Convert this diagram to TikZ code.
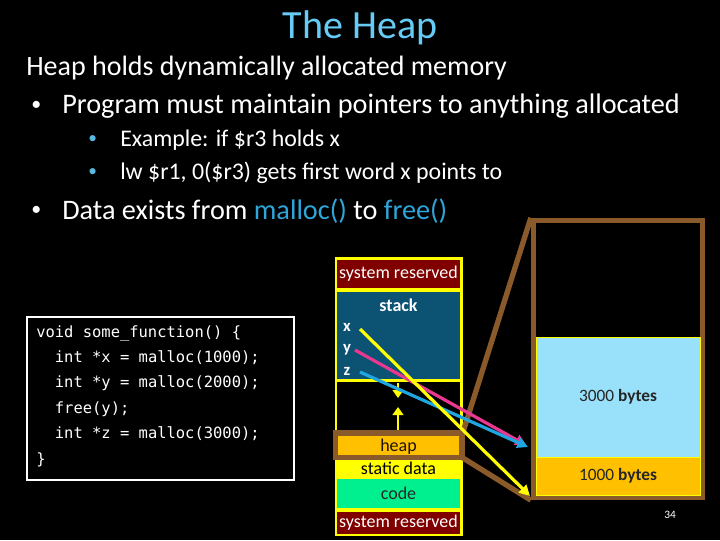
\documentclass[tikz,border=0pt]{standalone}
\usepackage{fontspec}
\setmainfont{Carlito}
\newfontfamily\codefont{DejaVu Sans Mono}
\usetikzlibrary{arrows.meta,fit}
\definecolor{titleblue}{HTML}{66CCF5}
\definecolor{fnblue}{HTML}{2FA6DA}
\definecolor{subbul}{HTML}{5BB8E0}
\definecolor{sysred}{HTML}{800000}
\definecolor{stackblue}{HTML}{0B5273}
\definecolor{heaporange}{HTML}{FFC000}
\definecolor{framebrown}{HTML}{8B5A2B}
\definecolor{codegreen}{HTML}{00F090}
\definecolor{lightblue}{HTML}{99E0FA}
\definecolor{ptrpink}{HTML}{E8388F}
\definecolor{ptrblue}{HTML}{1FA5E0}
\definecolor{ptryellow}{HTML}{FFFF00}
\newcommand{\fsz}[1]{\fontsize{#1}{1.2\dimexpr#1pt\relax}\selectfont}
\begin{document}
\begin{tikzpicture}[x=0.75pt,y=-0.75pt,
  txt/.style={inner sep=0pt, text=white, anchor=west},
  region/.style={inner sep=0pt},
  lbl/.style={inner sep=0pt, font=\fsz{13.5}},
  ptr/.style={line width=2.4pt, -{Triangle[length=8pt,width=8pt]}},
  brownline/.style={draw=framebrown, line width=4pt},
  growarrow/.style={draw=ptryellow, line width=2.2pt, -{Triangle[length=6pt,width=8pt]}}]
\useasboundingbox (0,0) rectangle (720,540);
\fill[black] (0,0) rectangle (720,540);

% ---- text ----
\node[inner sep=0pt, font=\fsz{30}, text=titleblue] (title) at (360,28) {The Heap};
\node[txt, font=\fsz{21}] (l1) at (26,68) {Heap holds dynamically allocated memory};
\node[txt, font=\fsz{15}] (b1) at (31,106) {•};
\node[txt, font=\fsz{21.2}] (t1) at (62,106) {Program must maintain pointers to anything allocated};
\node[txt, font=\fsz{13}, text=subbul] (b2) at (88,140) {•};
\node[txt, font=\fsz{17.9}] (t2) at (120,140) {Example: if \$r3 holds x};
\node[txt, font=\fsz{13}, text=subbul] (b3) at (88,173) {•};
\node[txt, font=\fsz{17.9}] (t3) at (120,173) {lw \$r1, 0(\$r3) gets first word x points to};
\node[txt, font=\fsz{15}] (b4) at (31,211) {•};
\node[txt, font=\fsz{21.2}] (t4) at (62,211) {Data exists from \textcolor{fnblue}{malloc()} to \textcolor{fnblue}{free()}};

% ---- code box ----
\node[region, draw=white, line width=0.9pt, fit={(27,317) (294,480)}] (codebox) {};
\node[inner sep=0pt, anchor=north west, align=left, text=white,
      font=\codefont\fontsize{11.6}{19.1}\selectfont] (code) at (36,325)
 {void some\_function() \{\\
  \phantom{in}int *x = malloc(1000);\\
  \phantom{in}int *y = malloc(2000);\\
  \phantom{in}free(y);\\
  \phantom{in}int *z = malloc(3000);\\
  \}};

% ---- memory column ----
\node[region, fill=ptryellow, fit={(335,257) (463,536)}] (col) {};
\node[region, fill=sysred, fit={(337,260) (460,288)}] (systop) {};
\node[lbl, text=white] (systoplbl) at (398.5,274) {system reserved};
\node[region, fill=stackblue, fit={(337,292) (460,379)}] (stack) {};
\node[lbl, text=white, font=\bfseries\fsz{13.5}] (stacklbl) at (398.5,305) {stack};
\node[region, fill=black, fit={(337,382) (460,431)}] (gap) {};
\node[region, fill=ptryellow, fit={(337,462) (460,477)}] (static) {};
\node[lbl, text=black] (staticlbl) at (398.5,468) {static data};
\node[region, fill=codegreen, fit={(337,479) (460,508)}] (codeseg) {};
\node[lbl, text=black!85] (codelbl) at (398.5,493) {code};
\node[region, fill=sysred, fit={(337,512) (460,534)}] (sysbot) {};
\node[lbl, text=white] (sysbotlbl) at (398.5,523) {system reserved};
\node[region, fill=heaporange, draw=framebrown, line width=4pt, fit={(335.5,433) (462,457.5)}] (heap) {};
\node[lbl, text=black!85!brown] (heaplbl) at (398.5,447) {heap};

% growth arrows
\coordinate (sdn0) at (398,383);
\coordinate (sdn1) at (398,398);
\coordinate (hup0) at (398,430);
\coordinate (hup1) at (398,407);
\draw[growarrow] (sdn0) -- (sdn1);
\draw[growarrow] (hup0) -- (hup1);

\node[lbl, text=white, font=\bfseries\fsz{12.5}] (xl) at (347,327) {x};
\node[lbl, text=white, font=\bfseries\fsz{12.5}] (yl) at (347,350) {y};
\node[lbl, text=white, font=\bfseries\fsz{12.5}] (zl) at (347,371) {z};

% ---- big heap view ----
\node[region, fill=black, draw=framebrown, line width=4pt, fit={(533.5,220.5) (702.5,497.5)}] (big) {};
\node[region, fill=lightblue, draw=ptryellow, line width=0.4pt, fit={(536,337) (700,457)}] (blk3) {};
\node[region, fill=heaporange, draw=ptryellow, line width=0.4pt, fit={(536,457) (700,495)}] (blk1) {};
\node[lbl, text=black!85, font=\fsz{13}] (blk3lbl) at (blk3.center) {3000 \textbf{bytes}};
\node[lbl, text=black!85, font=\fsz{13}] (blk1lbl) at (blk1.center) {1000 \textbf{bytes}};
\node[inner sep=0pt, text=white, font=\fsz{8.5}] (pagenum) at (670,515) {34};

% zoom lines
\coordinate (hz1) at (463,432);
\coordinate (hz2) at (463,458);
\draw[brownline] (big.north west) -- (hz1);
\draw[brownline] (hz2) -- (big.south west);

% pointers
\coordinate (xs) at (360,329);
\coordinate (ys) at (355,350);
\coordinate (zs) at (360,372);
\coordinate (xe) at (530,496);
\coordinate (ye) at (526,445);
\coordinate (ze) at (528,447);
\draw[ptr, draw=ptrpink, fill=ptrpink] (ys) -- (ye);
\draw[ptr, draw=ptrblue, fill=ptrblue] (zs) -- (ze);
\draw[ptr, draw=ptryellow, fill=ptryellow] (xs) -- (xe);
\end{tikzpicture}
\end{document}
